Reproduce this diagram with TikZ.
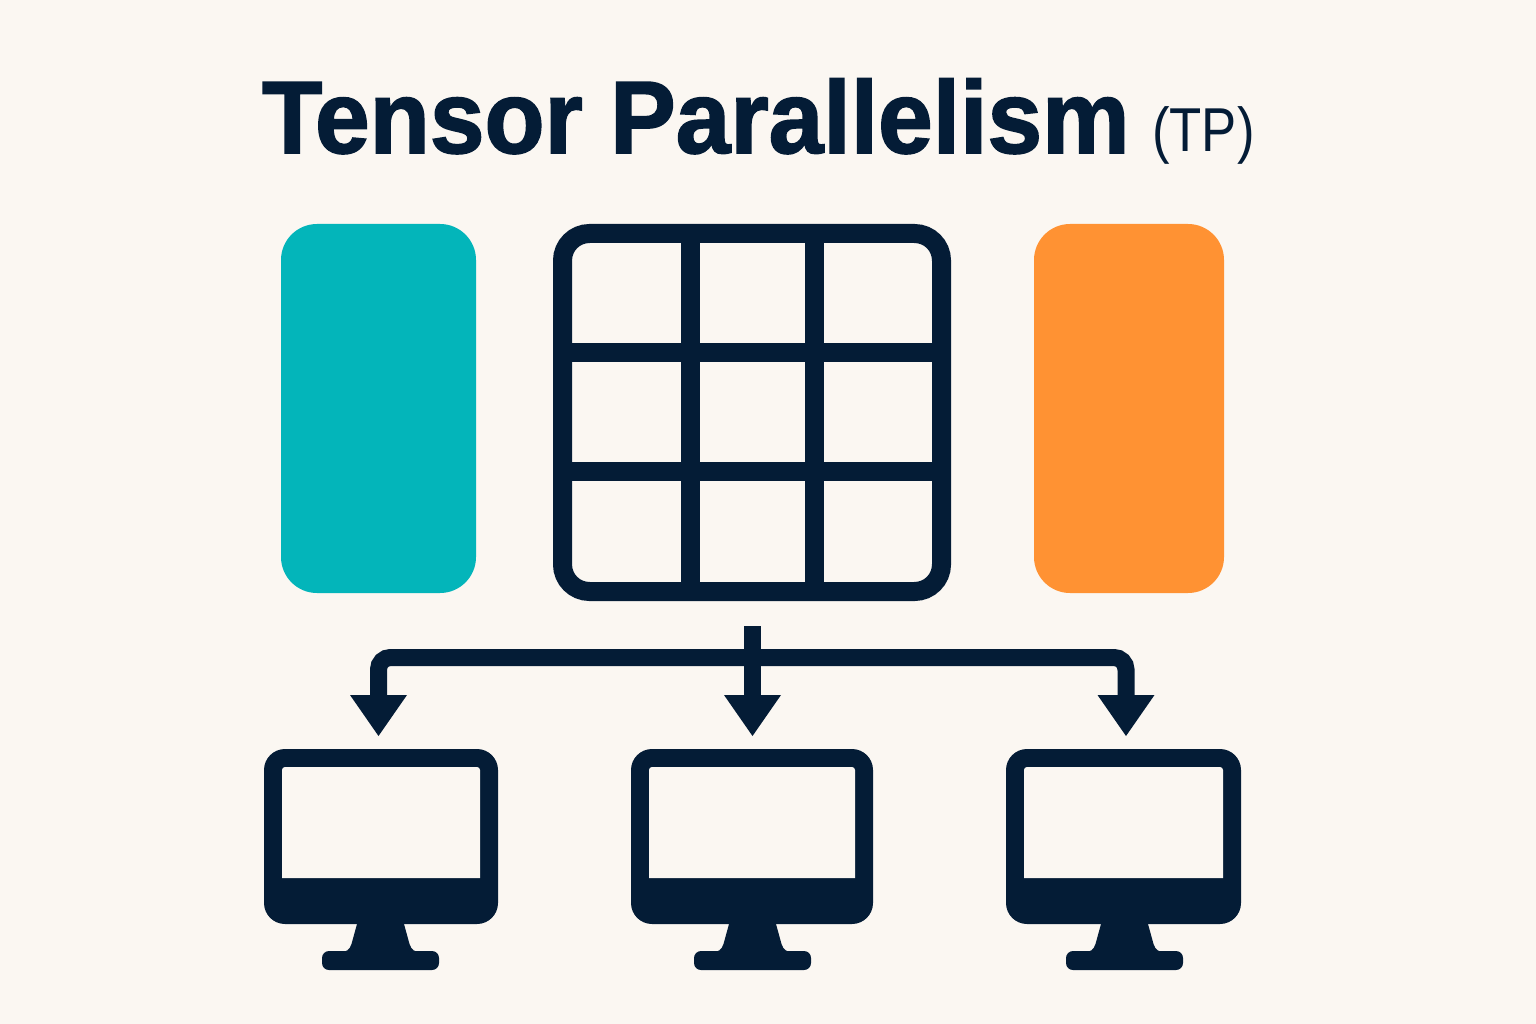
\documentclass[tikz,border=0pt]{standalone}
\usepackage{fontspec}
\setmainfont{Liberation Sans}
\newfontfamily\titlefont{Liberation Sans Bold}[FakeBold=1.6,FakeStretch=0.955]
\newfontfamily\abbrfont{Liberation Sans}[FakeStretch=0.85]
\usetikzlibrary{arrows.meta}
\definecolor{bgc}{HTML}{FBF7F2}
\definecolor{navy}{HTML}{041C36}
\definecolor{tealc}{HTML}{03B5BA}
\definecolor{orangec}{HTML}{FF9233}
\tikzset{
  panel/.style={rectangle,inner sep=0pt,outer sep=0pt,rounded corners=36pt},
  gridbox/.style={rectangle,draw=navy,line width=19pt,inner sep=0pt,rounded corners=27pt,minimum width=379pt,minimum height=358pt},
  gridline/.style={draw=navy,line width=19pt},
  headtip/.tip={Triangle[width=57pt,length=41pt,line width=0pt]},
  link/.style={draw=navy,line width=17pt,-{headtip}},
  duallink/.style={draw=navy,line width=17pt,{headtip}-{headtip},rounded corners=12pt},
  body/.style={rectangle,fill=navy,inner sep=0pt,outer sep=0pt,rounded corners=21pt},
}
\newcommand{\monitor}[4]{% name, x1, x2, cx(stand)
  \node[body,minimum width=#3pt-#2pt,minimum height=175pt] (#1) at ({(#2+#3)/2},836.5) {};
  \fill[bgc] (#2+18,878) [rounded corners=3pt] -- (#2+18,767) -- (#3-18,767) [sharp corners] -- (#3-18,878) -- cycle;
  \fill[navy] (#4-23.5,920) -- (#4-23.5,924) -- (#4-29,944) .. controls (#4-31,950) and (#4-34,952) .. (#4-40,952)
     -- (#4+40,952) .. controls (#4+34,952) and (#4+31,950) .. (#4+29,944) -- (#4+23.5,924) -- (#4+23.5,920) -- cycle;
  \fill[navy,rounded corners=7pt] (#4-58.5,951) rectangle (#4+58.5,970);
}
\begin{document}
\begin{tikzpicture}[x=1pt,y=-1pt]
\useasboundingbox[fill=bgc] (0,0) rectangle (1536,1024);
\node[anchor=base west,inner sep=0pt,text=navy,font=\titlefont\fontsize{103}{103}\selectfont] (title) at (262,153) {Tensor Parallelism};
\node[anchor=base west,inner sep=0pt,text=navy,font=\abbrfont\fontsize{62}{62}\selectfont] (abbr) at (1152,152) {(TP)};
\node[panel,fill=tealc,minimum width=195pt,minimum height=369pt] (teal) at (378.5,408.5) {};
\node[panel,fill=orangec,minimum width=190pt,minimum height=369pt] (orange) at (1129,408.5) {};
\node[gridbox] (grid) at (752,412.5) {};
\draw[gridline] (690,233.5) -- (690,591.5);
\draw[gridline] (814,233.5) -- (814,591.5);
\draw[gridline] (562.5,352) -- (941.5,352);
\draw[gridline] (562.5,471) -- (941.5,471);
\monitor{mona}{264}{498}{380.5}
\monitor{monb}{631}{873}{752.5}
\monitor{monc}{1006}{1241}{1124.5}
\coordinate (stem) at (752.5,626);
\coordinate (tipa) at (378.5,736);
\coordinate (tipb) at (752.5,736);
\coordinate (tipc) at (1126,736);
\coordinate (hub) at (752.5,657.5);
\draw[link] (stem) -- (tipb);
\draw[duallink] (tipa) -- (hub -| tipa) -- (hub -| tipc) -- (tipc);
\end{tikzpicture}
\end{document}
